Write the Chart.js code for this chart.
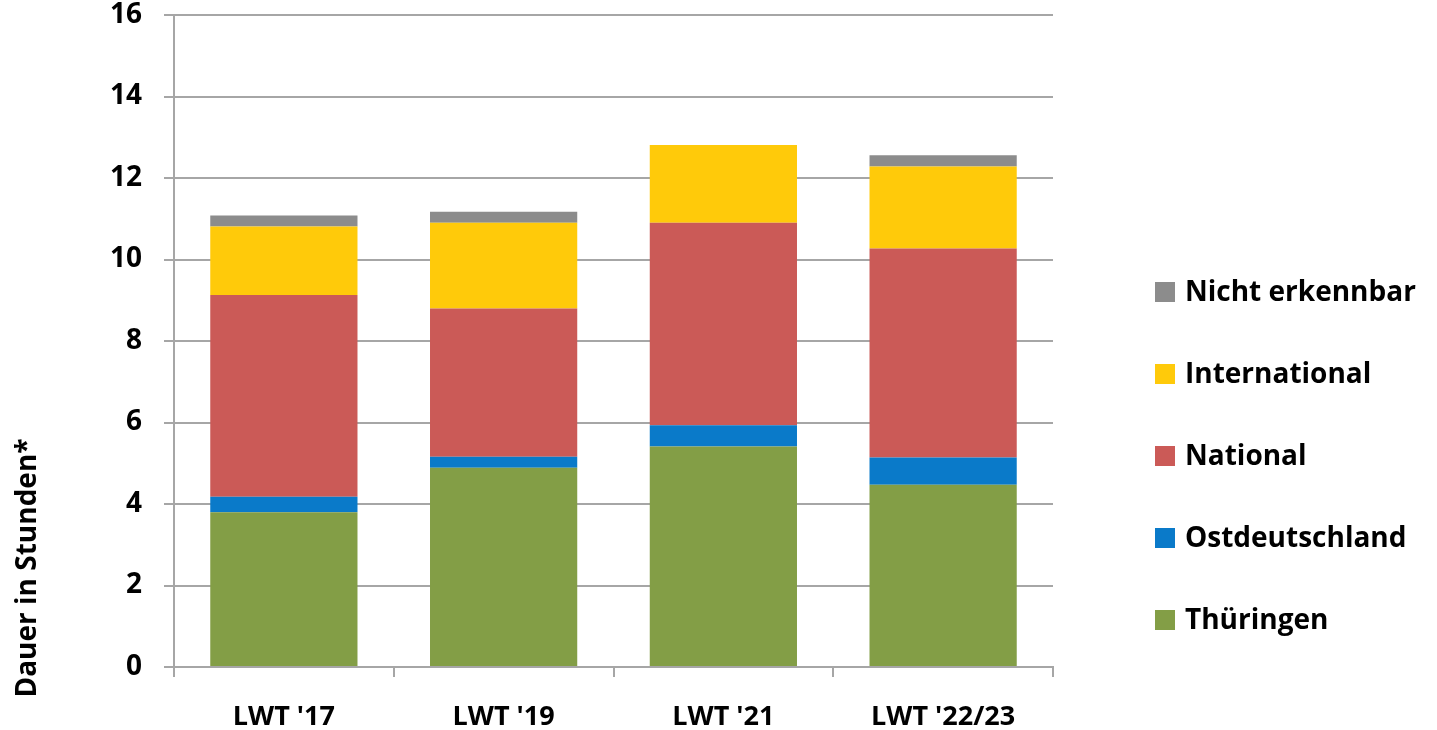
<!DOCTYPE html>
<html>
<head>
<meta charset="utf-8">
<script src="https://cdn.jsdelivr.net/npm/chart.js@4.4.1/dist/chart.umd.min.js"></script>
<style>
  html, body { margin: 0; padding: 0; background: #fff; }
  #wrap { width: 1437px; height: 730px; position: relative; }
</style>
</head>
<body>
<div id="wrap"><canvas id="myChart"></canvas></div>
<script>
const labels = ["LWT '17", "LWT '19", "LWT '21", "LWT '22/23"];
const thueringen = [3.80, 4.89, 5.41, 4.47];
const ostdeutschland = [0.38, 0.27, 0.52, 0.67];
const national = [4.95, 3.64, 4.97, 5.13];
const international = [1.68, 2.10, 1.91, 2.01];
const nichtErkennbar = [0.27, 0.27, 0, 0.28];
const yTicks = [0, 2, 4, 6, 8, 10, 12, 14, 16];

const FONT = "'Open Sans', 'Noto Sans', sans-serif";
const GRID = "#a6a6a6";

// legend + axis title drawn by hand so they sit where the original has them
const extras = {
  id: "extras",
  afterDraw(chart) {
    const ctx = chart.ctx;
    ctx.save();
    ctx.font = "bold 28px " + FONT;
    ctx.textBaseline = "middle";
    const ds = chart.data.datasets.slice().reverse();
    ds.forEach((d, i) => {
      const y = 292 + i * 82;
      ctx.fillStyle = d.backgroundColor;
      ctx.fillRect(1155, y - 10, 20, 20);
      ctx.fillStyle = "#000";
      ctx.fillText(d.label, 1185, y + 1);
    });
    // y title
    ctx.translate(28, 568);
    ctx.rotate(-Math.PI / 2);
    ctx.textAlign = "center";
    ctx.font = "bold 28px " + FONT;
    ctx.fillText("Dauer in Stunden*", 0, 0);
    ctx.restore();
  }
};

const ctx = document.getElementById("myChart").getContext("2d");
const chart = new Chart(ctx, {
  type: "bar",
  data: {
    labels: labels,
    datasets: [
      { label: "Thüringen", data: thueringen, backgroundColor: "#839e46" },
      { label: "Ostdeutschland", data: ostdeutschland, backgroundColor: "#0a7ac9" },
      { label: "National", data: national, backgroundColor: "#cb5a57" },
      { label: "International", data: international, backgroundColor: "#ffca0a" },
      { label: "Nicht erkennbar", data: nichtErkennbar, backgroundColor: "#8c8c8c" }
    ]
  },
  options: {
    responsive: true,
    maintainAspectRatio: false,
    animation: false,
    layout: { padding: { left: 0, right: 384, top: 15, bottom: 0 } },
    datasets: { bar: { categoryPercentage: 1, barPercentage: 0.67, borderWidth: 0 } },
    plugins: {
      legend: { display: false },
      tooltip: { enabled: false }
    },
    scales: {
      x: {
        stacked: true,
        afterFit: (s) => { s.height = 63; s.paddingLeft = 0; s.paddingRight = 0; },
        grid: { drawOnChartArea: false, drawTicks: true, tickLength: 10, color: GRID, lineWidth: 2, offset: true },
        border: { color: GRID, width: 2 },
        ticks: { color: "#000", font: { family: FONT, size: 27, weight: "bold" }, padding: 24 }
      },
      y: {
        stacked: true,
        min: 0,
        max: 16,
        afterFit: (s) => { s.width = 174; s.paddingTop = 0; s.paddingBottom = 0; },
        afterBuildTicks: (s) => { s.ticks = yTicks.map((v) => ({ value: v })); },
        grid: { color: GRID, lineWidth: 2, tickLength: 10 },
        border: { color: GRID, width: 2 },
        ticks: { color: "#000", font: { family: FONT, size: 28, weight: "bold" }, padding: 22 }
      }
    }
  },
  plugins: [extras]
});
</script>
</body>
</html>
